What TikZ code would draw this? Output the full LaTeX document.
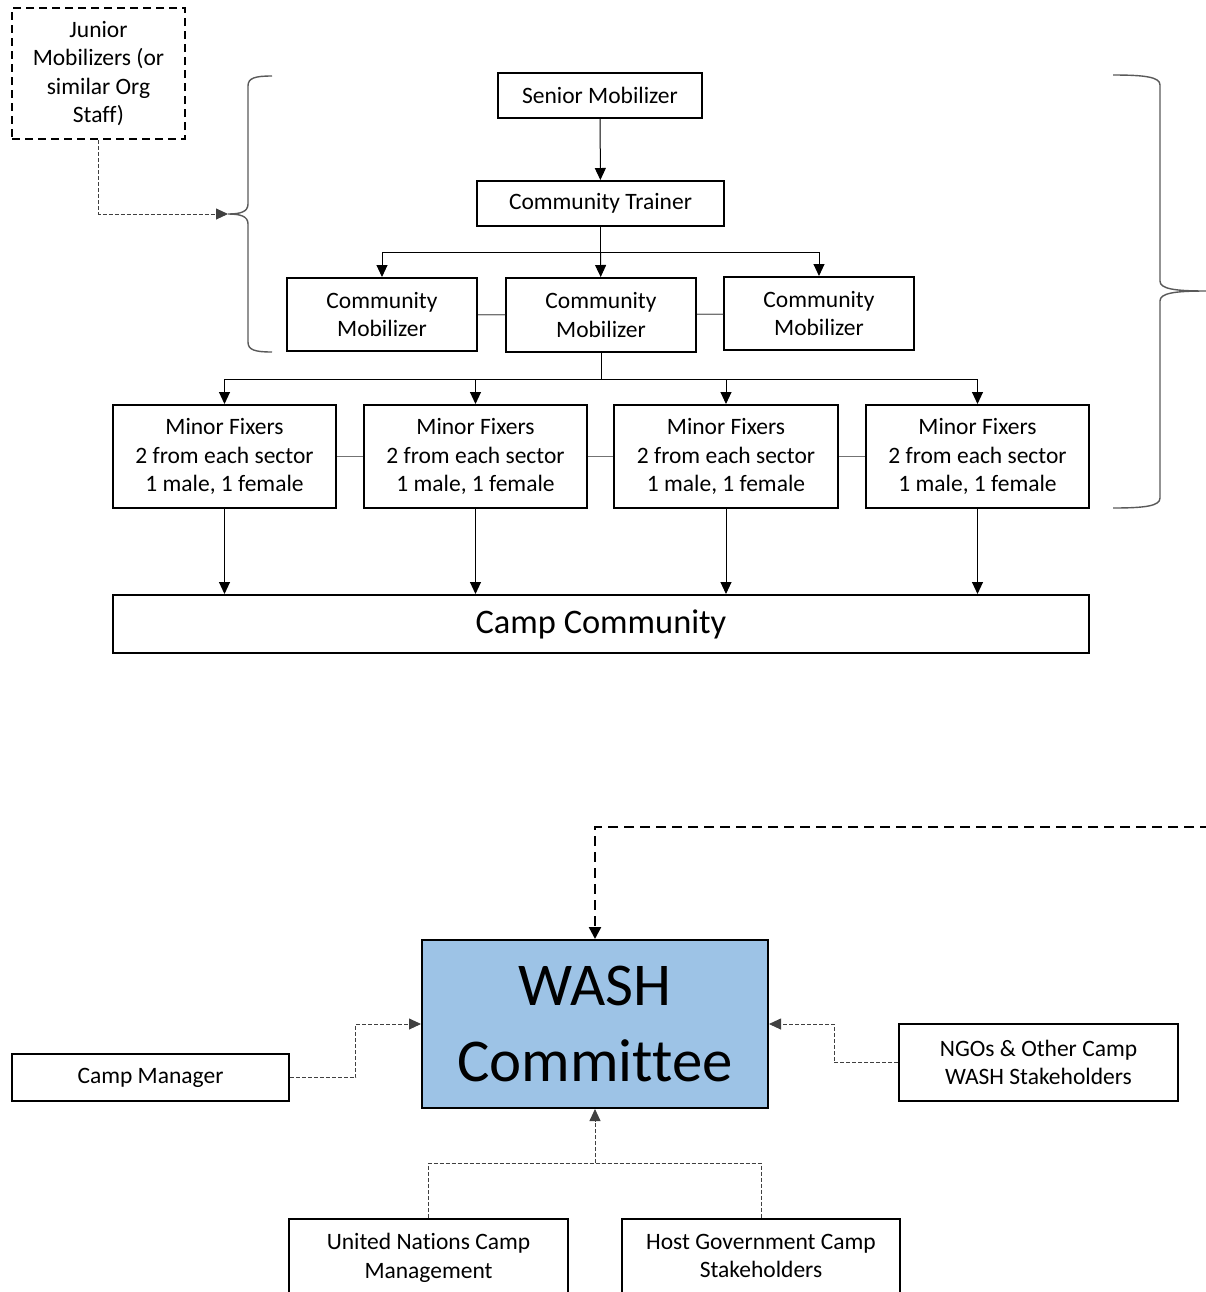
\documentclass[tikz,border=0pt]{standalone}
\usepackage{fontspec}
\setmainfont{Carlito}[Ligatures=NoCommon]
\usetikzlibrary{arrows.meta,positioning}

\definecolor{washblue}{HTML}{9DC3E6}

\tikzset{
  box/.style={draw, line width=1pt, inner sep=0pt, align=center,
    font=\fontsize{11.75}{14.3}\selectfont},
  juniorbox/.style={box, dash pattern=on 4pt off 2.5pt},
  arr/.style={-{Triangle[length=6pt,width=5.5pt]}, line width=0.5pt},
  link/.style={line width=0.6pt, black!55},
  dotconn/.style={line width=0.45pt, black!75, dash pattern=on 2pt off 1pt},
  bigdash/.style={line width=1.2pt, dash pattern=on 5pt off 3pt,
    -{Triangle[length=6pt,width=6pt]}},
  bracket/.style={line width=0.7pt, black!65},
}

\begin{document}
\begin{tikzpicture}[x=0.5pt, y=-0.5pt]
   \clip (0,0) rectangle (1206,1292);

   % top chart
   \node[juniorbox, minimum width=86.5pt, minimum height=65.5pt] (junior) at (98.5,73.5)
     {Junior\\Mobilizers (or\\similar Org\\Staff)};
   \node[box, minimum width=102pt, minimum height=22.5pt] (senior) at (600,95.5) {Senior Mobilizer};
   \node[box, minimum width=123.5pt, minimum height=22.5pt] (trainer) at (600.5,203.5) {Community Trainer};

   \node[box, minimum width=95pt, minimum height=36.5pt] (cm1) at (382,314.5) {Community\\Mobilizer};
   \node[box, minimum width=95pt, minimum height=37pt] (cm2) at (601,315) {Community\\Mobilizer};
   \node[box, minimum width=95pt, minimum height=36.5pt] (cm3) at (819,313.5) {Community\\Mobilizer};

   \node[box, minimum width=111.5pt, minimum height=51.5pt] (mf1) at (224.5,456.5)
     {Minor Fixers\\2 from each sector\\1 male, 1 female};
   \node[box, minimum width=111.5pt, minimum height=51.5pt] (mf2) at (475.5,456.5)
     {Minor Fixers\\2 from each sector\\1 male, 1 female};
   \node[box, minimum width=112pt, minimum height=51.5pt] (mf3) at (726,456.5)
     {Minor Fixers\\2 from each sector\\1 male, 1 female};
   \node[box, minimum width=111.5pt, minimum height=51.5pt] (mf4) at (977.5,456.5)
     {Minor Fixers\\2 from each sector\\1 male, 1 female};

   \node[box, minimum width=488pt, minimum height=29pt, font=\fontsize{17.2}{20}\selectfont]
     (camp) at (601,624) {Camp Community};

   % joints
   \coordinate (tj) at (600.5,252);
   \coordinate (mj) at (601,379);
   \coordinate (lbrace) at (228,214);

   % connectors
   \draw[arr] (senior) -- (trainer);
   \draw[line width=0.5pt] (trainer.south) -- (tj);
   \draw[arr] (tj) -| (cm1);
   \draw[arr] (tj) -- (cm2);
   \draw[arr] (tj) -| (cm3);
   \draw[link] (cm1) -- (cm2);
   \draw[link] (cm2) -- (cm3);

   \draw[line width=0.5pt] (cm2.south) -- (mj);
   \draw[arr] (mj) -| (mf1);
   \draw[arr] (mj) -| (mf2);
   \draw[arr] (mj) -| (mf3);
   \draw[arr] (mj) -| (mf4);
   \draw[link] (mf1) -- (mf2);
   \draw[link] (mf2) -- (mf3);
   \draw[link] (mf3) -- (mf4);

   \draw[arr] (mf1.south) -- (mf1.south |- camp.north);
   \draw[arr] (mf2.south) -- (mf2.south |- camp.north);
   \draw[arr] (mf3.south) -- (mf3.south |- camp.north);
   \draw[arr] (mf4.south) -- (mf4.south |- camp.north);

   \draw[dotconn, arr, line width=0.45pt] (junior.south) |- (lbrace);

   % braces
   \draw[bracket] (272,76) .. controls (255,76) and (248,78) .. (248,86) -- (248,204)
     .. controls (248,212) and (240,214) .. (lbrace)
     .. controls (240,214) and (248,216) .. (248,224) -- (248,342)
     .. controls (248,350) and (255,352) .. (272,352);
   \draw[bracket] (1113,75) .. controls (1145,75) and (1160,77) .. (1160,85) -- (1160,281)
     .. controls (1160,289) and (1175,291) .. (1206,291)
     .. controls (1175,291) and (1160,293) .. (1160,301) -- (1160,498)
     .. controls (1160,506) and (1145,508) .. (1113,508);

   % bottom chart
   \node[box, fill=washblue, minimum width=173pt, minimum height=84pt,
     font=\fontsize{30.4}{38}\selectfont] (wash) at (595,1024) {WASH\\Committee};
   \node[box, line width=0.9pt, minimum width=138.5pt, minimum height=23.5pt] (mgr) at (150.5,1077.5) {Camp Manager};
   \node[box, line width=0.9pt, minimum width=139.5pt, minimum height=38.5pt] (ngo) at (1038.5,1062.5)
     {NGOs \& Other Camp\\WASH Stakeholders};
   \node[box, line width=0.9pt, anchor=north, minimum width=139.5pt, minimum height=39pt] (un) at (428.5,1218)
     {United Nations Camp\\Management};
   \node[box, line width=0.9pt, anchor=north, minimum width=139pt, minimum height=39pt] (host) at (761,1218)
     {Host Government Camp\\Stakeholders\vphantom{g}};

   % joints
   \coordinate (dtop) at (1210,827);
   \coordinate (bj) at (595,1163);

   % connectors
   \draw[bigdash] (dtop) -| (wash.north);
   \draw[dotconn, arr, line width=0.45pt] (mgr.east) -- ++(66,0) |- (wash.west);
   \draw[dotconn, arr, line width=0.45pt] (ngo.west) -- ++(-64,0) |- (wash.east);
   \draw[dotconn] (un.north) |- (bj) -| (host.north);
   \draw[dotconn, arr, line width=0.45pt] (bj) -- (wash.south);
\end{tikzpicture}
\end{document}
